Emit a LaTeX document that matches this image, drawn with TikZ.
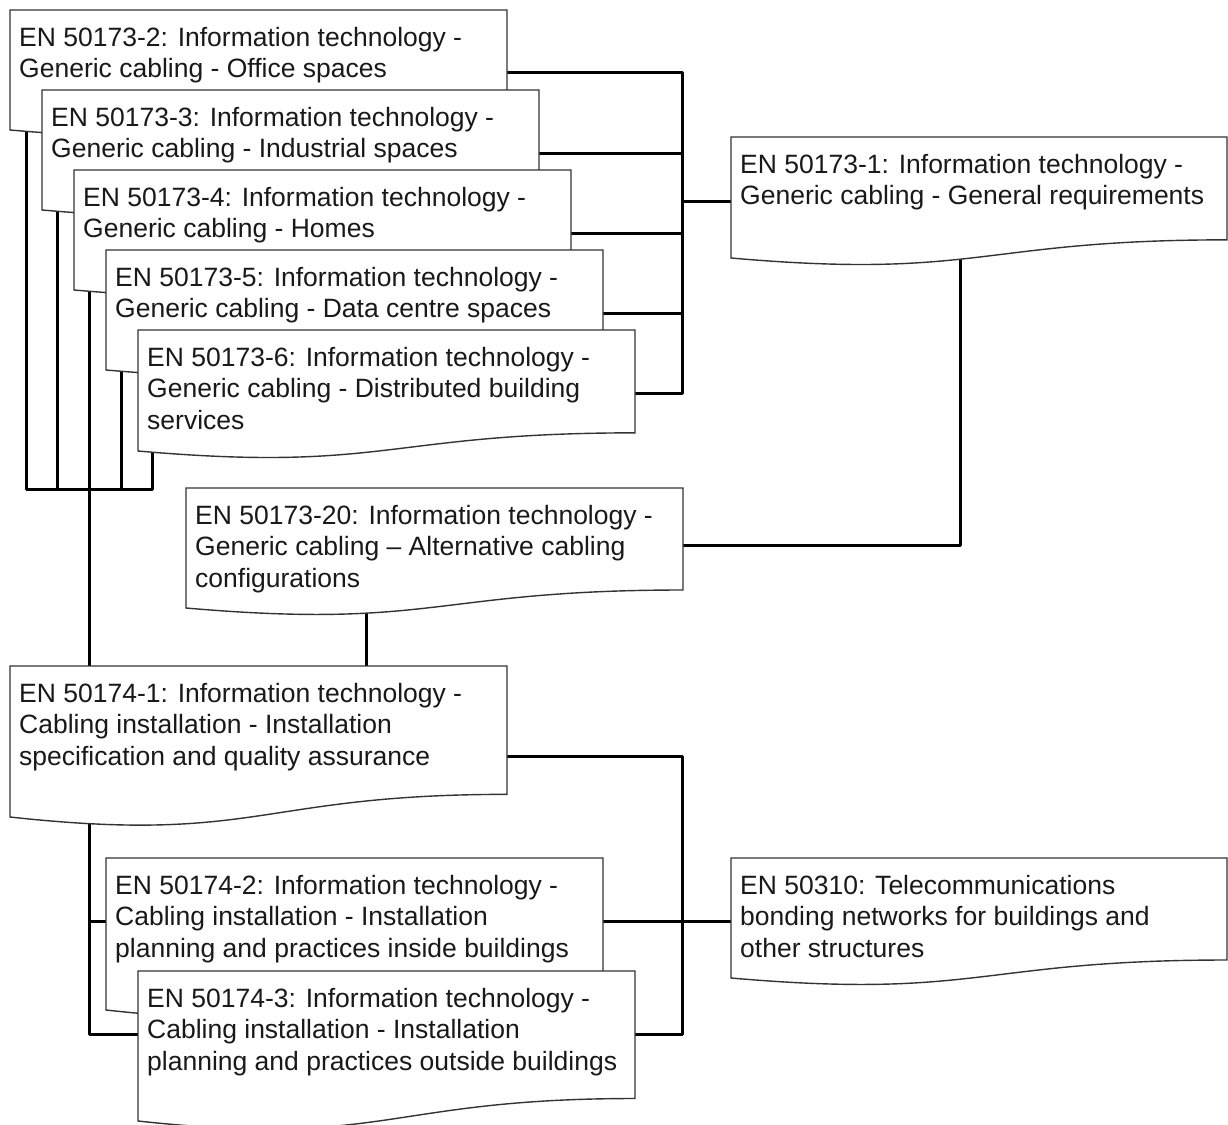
\documentclass[tikz,border=0pt]{standalone}
\usepackage{fontspec}
\setmainfont{Liberation Sans}
\usetikzlibrary{calc}
\pgfdeclarelayer{bg}
\pgfsetlayers{bg,main}

\tikzset{
  boxarea/.style={rectangle, draw=none, inner sep=0pt, outer sep=0pt, anchor=north west},
  docline/.style={draw=black!80, fill=white, line width=1.4pt, line join=miter},
  boxtext/.style={anchor=north west, inner sep=0pt, align=left, font=\fontsize{26.5}{31.5}\selectfont, text=black!90},
  conn/.style={draw=black, line width=3pt, line join=round, line cap=rect}
}

\newcommand\mkbox[5]{% name, L, T, W, H
  \node[boxarea, minimum width=#4pt, minimum height=#5pt] (#1) at (#2,#3) {};
}
\newcommand\drawdoc[3]{% name, H, text
  \path[docline] (#1.south west) -- (#1.north west) -- (#1.north east)
    -- ($(#1.south east)+(0,{-0.15*#2})$)
    .. controls ($(#1.south)+(0,{-0.15*#2})$) and ($(#1.south)+(0,{0.18*#2})$) .. (#1.south west) -- cycle;
  \node[boxtext] (#1-t) at ($(#1.north west)+(9,14)$) {\strut #3};
}

\begin{document}
\begin{tikzpicture}[x=1pt,y=-1pt]
\useasboundingbox (0,0) rectangle (1228,1124);

% invisible node frames
\mkbox{b2}{10}{10}{497}{120}
\mkbox{b3}{42}{90}{497}{120}
\mkbox{b4}{74}{170}{497}{120}
\mkbox{b5}{106}{250}{497}{120}
\mkbox{b6}{138}{330}{497}{121}
\mkbox{b1}{731}{137}{496}{121}
\mkbox{b20}{186}{488}{497}{120}
\mkbox{b741}{10}{666}{497}{151}
\mkbox{b742}{106}{858}{497}{152}
\mkbox{b743}{138}{971}{497}{150}
\mkbox{b50310}{731}{858}{496}{120}

\coordinate (lb) at (0,489);
\coordinate (rb) at (682,0);

\begin{pgfonlayer}{bg}
\fill[white] (0,0) rectangle (1228,1124);
% left group bus
\coordinate (s2) at ($(b2.south west)+(16,-4)$);
\coordinate (s3) at ($(b3.south west)+(15,-4)$);
\coordinate (s4) at ($(b4.south west)+(15,-4)$);
\coordinate (s5) at ($(b5.south west)+(15,-4)$);
\coordinate (s6) at ($(b6.south west)+(14,-4)$);
\draw[conn] (s2) -- (s2 |- lb) -- (s6 |- lb) -- (s6);
\draw[conn] (s3) -- (s3 |- lb);
\draw[conn] (s5) -- (s5 |- lb);
\draw[conn] (s4) -- (s4 |- b741.north);

% right bus to EN 50173-1
\coordinate (r2) at ($(b2.north east)+(0,62)$);
\coordinate (r3) at ($(b3.north east)+(0,63)$);
\coordinate (r4) at ($(b4.north east)+(0,63)$);
\coordinate (r5) at ($(b5.north east)+(0,63)$);
\coordinate (r6) at ($(b6.north east)+(0,63)$);
\draw[conn] (r2) -- (r2 -| rb) -- (r6 -| rb) -- (r6);
\draw[conn] (r3) -- (r3 -| rb);
\draw[conn] (r4) -- (r4 -| rb);
\draw[conn] (r5) -- (r5 -| rb);
\coordinate (l1) at ($(b1.north west)+(0,64)$);
\draw[conn] (l1 -| rb) -- (l1);

% EN 50173-1 to EN 50173-20
\coordinate (d1) at ($(b1.south west)+(229,-4)$);
\coordinate (r20) at ($(b20.north east)+(0,57)$);
\draw[conn] (d1) |- (r20);

% EN 50173-20 to EN 50174-1
\coordinate (d20) at ($(b20.south west)+(180,-4)$);
\draw[conn] (d20) -- (d20 |- b741.north);

% EN 50174 group
\coordinate (r741) at ($(b741.north east)+(0,90)$);
\coordinate (r742) at ($(b742.north east)+(0,63)$);
\coordinate (r743) at ($(b743.north east)+(0,63)$);
\draw[conn] (r741) -| (rb |- r743) -- (r743);
\draw[conn] (r742) -- (b50310.west |- r742);

\coordinate (d741) at ($(b741.south west)+(79,-4)$);
\coordinate (l742) at ($(b742.north west)+(0,63)$);
\coordinate (l743) at ($(b743.north west)+(0,63)$);
\draw[conn] (d741) |- (l743);
\draw[conn] (d741 |- l742) -- (l742);
\end{pgfonlayer}

% document shapes with text
\drawdoc{b2}{120}{EN 50173-2: Information technology -\\Generic cabling - Office spaces}
\drawdoc{b3}{120}{EN 50173-3: Information technology -\\Generic cabling - Industrial spaces}
\drawdoc{b4}{120}{EN 50173-4: Information technology -\\Generic cabling - Homes}
\drawdoc{b5}{120}{EN 50173-5: Information technology -\\Generic cabling - Data centre spaces}
\drawdoc{b6}{121}{EN 50173-6: Information technology -\\Generic cabling - Distributed building\\services}
\drawdoc{b1}{121}{EN 50173-1: Information technology -\\Generic cabling - General requirements}
\drawdoc{b20}{120}{EN 50173-20: Information technology -\\Generic cabling – Alternative cabling\\configurations}
\drawdoc{b741}{151}{EN 50174-1: Information technology -\\Cabling installation - Installation\\specification and quality assurance}
\drawdoc{b742}{152}{EN 50174-2: Information technology -\\Cabling installation - Installation\\planning and practices inside buildings}
\drawdoc{b743}{150}{EN 50174-3: Information technology -\\Cabling installation - Installation\\planning and practices outside buildings}
\drawdoc{b50310}{120}{EN 50310: Telecommunications\\bonding networks for buildings and\\other structures}
\end{tikzpicture}
\end{document}
